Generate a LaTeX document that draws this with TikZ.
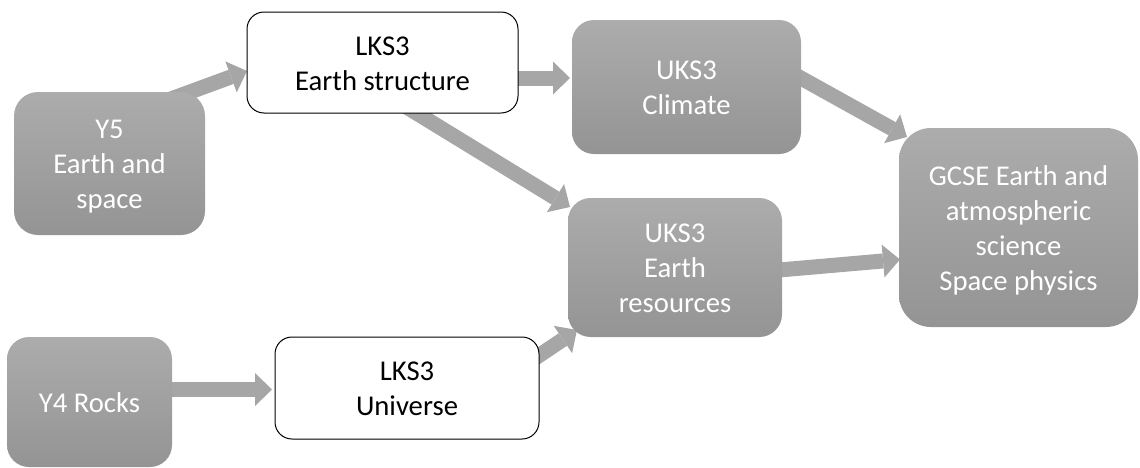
\documentclass[tikz,border=0pt]{standalone}
\usepackage{fontspec}
\setmainfont{Carlito}
\usetikzlibrary{arrows.meta,calc,backgrounds}
\definecolor{gTop}{RGB}{172,172,172}
\definecolor{gBot}{RGB}{148,148,148}
\definecolor{arrowgray}{RGB}{166,166,166}
\newcommand{\lnst}{\rule[-5.625pt]{0pt}{26.25pt}}
\begin{document}
\begin{tikzpicture}[x=0.75pt,y=-0.75pt,
  box/.style={inner sep=0pt, outer sep=0pt, align=center, font=\fontsize{21.5}{26.25}\selectfont},
  gbox/.style={box, top color=gTop, bottom color=gBot, text=white},
  wbox/.style={box, fill=white, draw=black, line width=0.75pt, rounded corners=12.75pt},
  conn/.style={draw=arrowgray, line width=11.25pt, -{Triangle[width=24.75pt,length=12.75pt,line width=0pt]}}
]
\useasboundingbox (0,0) rectangle (1140,468);

\node[gbox, rounded corners=18pt, minimum width=143.25pt, minimum height=107.25pt] (y5) at (109.5,163.5) {\lnst Y5\\\lnst Earth and\\\lnst space};
\node[wbox, minimum width=203.25pt, minimum height=75.75pt] (es) at (382.5,62.5) {\lnst LKS3\\\lnst Earth structure};
\node[gbox, rounded corners=16.5pt, minimum width=171.75pt, minimum height=100.5pt] (cl) at (686.5,87) {\lnst UKS3\\\lnst Climate};
\node[gbox, rounded corners=17pt, minimum width=160.5pt, minimum height=104.25pt] (er) at (675,267.5) {\lnst UKS3\\\lnst Earth\\\lnst resources};
\node[gbox, rounded corners=24pt, minimum width=179.25pt, minimum height=149.25pt] (gc) at (1018.5,227.5) {\lnst GCSE Earth and\\\lnst atmospheric\\\lnst science\\\lnst Space physics};
\node[gbox, rounded corners=16.5pt, minimum width=123.75pt, minimum height=97.5pt] (y4) at (89.5,402) {\lnst Y4 Rocks};
\node[wbox, minimum width=198pt, minimum height=76.5pt] (un) at (407,388) {\lnst LKS3\\\lnst Universe};

\begin{scope}[on background layer]
\draw[conn] ($(y5.north east)+(-45,11)$) -- ($(es.west)+(0,8.5)$);
\draw[conn] ($(es.east)+(-20,15.5)$) -- ($(cl.west)+(-2,-9)$);
\draw[conn] ($(es.south)+(17.5,-10)$) -- ($(er.north west)+(2,9)$);
\draw[conn] ($(cl.east)+(-20,-20)$) -- ($(gc.north west)+(8,9)$);
\draw[conn] ($(er.east)+(-20,4)$) -- ($(gc.west)+(1,32)$);
\draw[conn] ($(y4.east)+(-20,-12.5)$) -- ($(un.west)+(-3,1.5)$);
\draw[conn] ($(un.east)+(-20,-19)$) -- ($(er.south west)+(9,-7)$);
\end{scope}
\end{tikzpicture}
\end{document}
